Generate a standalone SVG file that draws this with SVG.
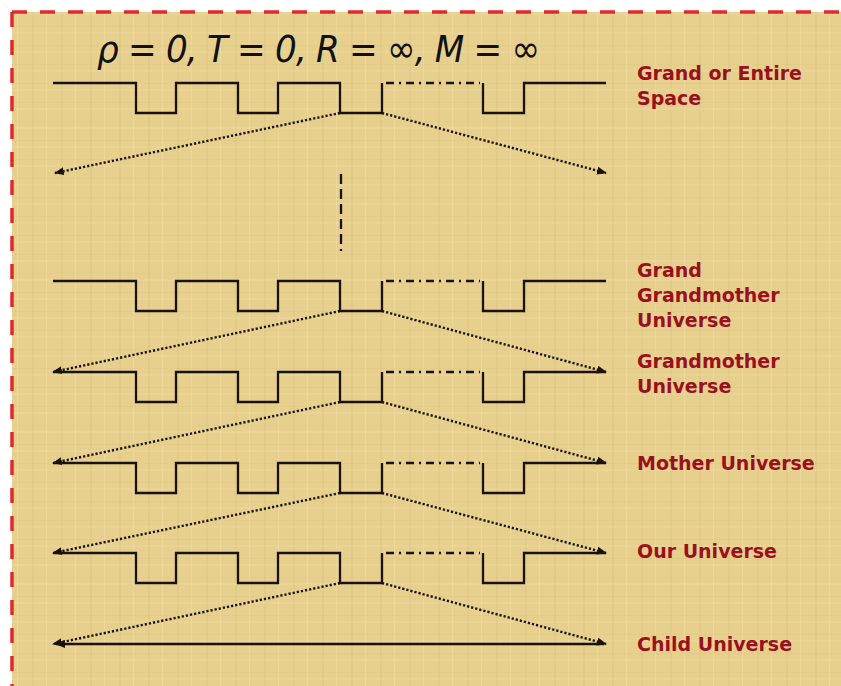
<svg xmlns="http://www.w3.org/2000/svg" width="841" height="686" viewBox="0 0 841 686">
<defs>
<style>
.wave{fill:none;stroke:#1a120a;stroke-width:2.3}
.dd{fill:none;stroke:#1a120a;stroke-width:2.3;stroke-dasharray:8,5,2,5}
.dot{fill:none;stroke:#1a120a;stroke-width:2.4;stroke-dasharray:2.2,2}
.solid{fill:none;stroke:#1a120a;stroke-width:2.3}
.lbl{font-family:"DejaVu Sans",Verdana,sans-serif;font-weight:bold;font-size:19px;fill:#9a1020}
</style>
<marker id="ah" viewBox="0 0 10 10" refX="9" refY="5" markerWidth="10" markerHeight="10" markerUnits="userSpaceOnUse" orient="auto">
<path d="M0,1 L10,5 L0,9 Z" fill="#1a120a"/>
</marker>
<marker id="ahs" viewBox="0 0 10 10" refX="1" refY="5" markerWidth="10" markerHeight="10" markerUnits="userSpaceOnUse" orient="auto">
<path d="M10,1 L0,5 L10,9 Z" fill="#1a120a"/>
</marker>
<pattern id="tex" width="29" height="19" patternUnits="userSpaceOnUse">
<rect width="29" height="19" fill="#e7d08e"/>
<rect x="3" width="2" height="19" fill="#d8bf7a" opacity="0.35"/>
<rect x="17" width="1" height="19" fill="#f1dea8" opacity="0.5"/>
<rect y="7" width="29" height="1" fill="#d8bf78" opacity="0.25"/>
<rect y="13" width="29" height="2" fill="#efdca2" opacity="0.35"/>
</pattern>
<g id="wavePath">
<path class="wave" d="M53,0 H136 V30 H176 V0 H238 V30 H278 V0 H340 V30 H382 V0"/>
<path class="dd" d="M386,0 H480"/>
<path class="wave" d="M483,0 V30 H524 V0 H606"/>
</g>
</defs>
<rect width="841" height="686" fill="#ffffff"/>
<rect x="12" y="12" width="829" height="674" fill="url(#tex)"/>
<path d="M12,12 H841 M12,12 V686" fill="none" stroke="#e02a2a" stroke-width="3.5" stroke-dasharray="15,13"/>
<text x="97" y="62" font-family="'DejaVu Sans Condensed','DejaVu Sans',sans-serif" font-style="italic" font-size="38" fill="#111" textLength="443" lengthAdjust="spacing">ρ = 0, T = 0, R = ∞, M = ∞</text>
<g id="grand-space">
<use href="#wavePath" y="83"/>
<text class="lbl" x="637" y="80">Grand or Entire</text>
<text class="lbl" x="637" y="105">Space</text>
</g>
<g id="grand-grandmother">
<use href="#wavePath" y="281"/>
<text class="lbl" x="637" y="277">Grand</text>
<text class="lbl" x="637" y="302">Grandmother</text>
<text class="lbl" x="637" y="327">Universe</text>
</g>
<g id="grandmother">
<use href="#wavePath" y="372"/>
<text class="lbl" x="637" y="368">Grandmother</text>
<text class="lbl" x="637" y="393">Universe</text>
</g>
<g id="mother">
<use href="#wavePath" y="463"/>
<text class="lbl" x="637" y="470">Mother Universe</text>
</g>
<g id="our">
<use href="#wavePath" y="553"/>
<text class="lbl" x="637" y="558">Our Universe</text>
</g>
<g id="child">
<path class="solid" d="M56,644 H604" marker-start="url(#ahs)"/>
<text class="lbl" x="637" y="651">Child Universe</text>
</g>
<g id="connectors">
<line class="dot" x1="340" y1="113" x2="55" y2="173" marker-end="url(#ah)"/>
<line class="dot" x1="382" y1="113" x2="606" y2="173" marker-end="url(#ah)"/>
<line x1="341" y1="174" x2="341" y2="251" stroke="#1a120a" stroke-width="2.3" stroke-dasharray="10,5"/>
<line class="dot" x1="340" y1="311" x2="53" y2="372" marker-end="url(#ah)"/>
<line class="dot" x1="382" y1="311" x2="606" y2="372" marker-end="url(#ah)"/>
<line class="dot" x1="340" y1="402" x2="53" y2="463" marker-end="url(#ah)"/>
<line class="dot" x1="382" y1="402" x2="606" y2="463" marker-end="url(#ah)"/>
<line class="dot" x1="340" y1="493" x2="53" y2="553" marker-end="url(#ah)"/>
<line class="dot" x1="382" y1="493" x2="606" y2="553" marker-end="url(#ah)"/>
<line class="dot" x1="340" y1="583" x2="53" y2="644" marker-end="url(#ah)"/>
<line class="dot" x1="382" y1="583" x2="606" y2="644" marker-end="url(#ah)"/>
</g>
</svg>
